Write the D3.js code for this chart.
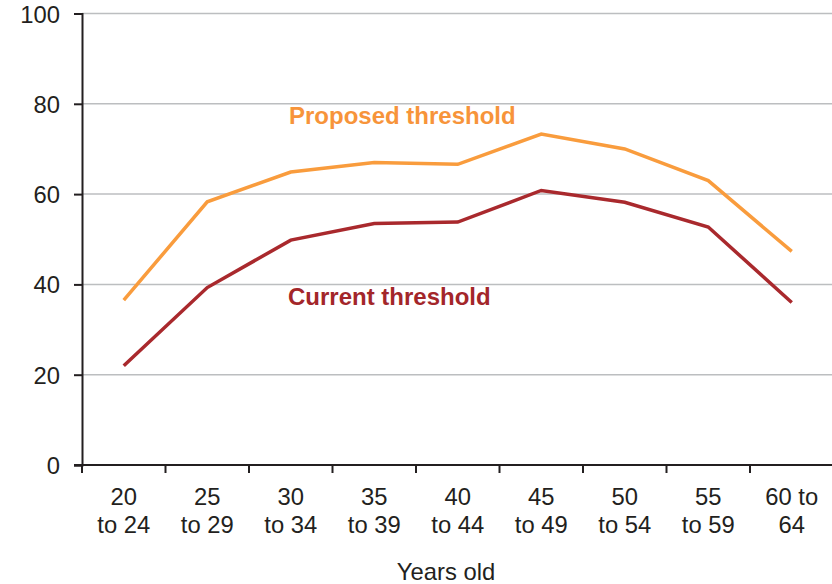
<!DOCTYPE html>
<html><head><meta charset="utf-8">
<script src="https://cdn.jsdelivr.net/npm/d3@7"></script>
<style>body{margin:0;background:#fff}svg{display:block;font-family:"Liberation Sans",Arial,sans-serif}</style>
</head><body><svg id="c" width="832" height="584"></svg>
<script>
const categories = [["20","to 24"],["25","to 29"],["30","to 34"],["35","to 39"],["40","to 44"],["45","to 49"],["50","to 54"],["55","to 59"],["60 to","64"]];
const proposed = [36.5, 58.3, 64.9, 67.0, 66.6, 73.3, 70.0, 63.0, 47.3];
const current  = [22.0, 39.3, 49.8, 53.5, 53.8, 60.8, 58.2, 52.7, 36.0];
const yTicks = [0,20,40,60,80,100];

const svg = d3.select("#c");
const x = d3.scaleBand().domain(d3.range(categories.length)).range([82, 833.5]);
const y = d3.scaleLinear().domain([0,100]).range([465, 13.5]);
const FS = 23.8;

// gridlines
svg.append("g").selectAll("line").data(yTicks.filter(d=>d>0)).join("line")
  .attr("x1",82).attr("x2",832).attr("y1",d=>y(d)).attr("y2",d=>y(d))
  .attr("stroke","#bcbec0").attr("stroke-width",1.5);

// y axis
const ya = svg.append("g").attr("transform","translate(82,0)")
  .call(d3.axisLeft(y).tickValues(yTicks).tickSize(8).tickPadding(14));
ya.select(".domain").attr("stroke","#231f20").attr("stroke-width",2);
ya.selectAll(".tick line").attr("stroke","#231f20").attr("stroke-width",2);
ya.selectAll(".tick text").attr("font-size",FS).attr("fill","#231f20").attr("dy","0.36em")
  .attr("font-family","Liberation Sans, Arial, sans-serif");

// x axis
const xa = svg.append("g").attr("transform","translate(0,465)");
xa.append("line").attr("x1",74).attr("x2",832).attr("y1",0).attr("y2",0).attr("stroke","#231f20").attr("stroke-width",2);
const tickPos = d3.range(categories.length).map(i=>x(i));
xa.selectAll("line.t").data(tickPos).join("line").attr("class","t")
  .attr("x1",d=>d).attr("x2",d=>d).attr("y1",0).attr("y2",8).attr("stroke","#231f20").attr("stroke-width",2);
const lab = xa.selectAll("text.l").data(categories).join("text").attr("class","l")
  .attr("text-anchor","middle").attr("font-size",FS).attr("fill","#231f20");
lab.append("tspan").attr("x",(d,i)=>x(i)+x.bandwidth()/2).attr("y",40).text(d=>d[0]);
lab.append("tspan").attr("x",(d,i)=>x(i)+x.bandwidth()/2).attr("y",68).text(d=>d[1]);

svg.append("text").attr("x",446).attr("y",580).attr("text-anchor","middle")
  .attr("font-size",FS).attr("fill","#231f20").text("Years old");

const line = d3.line().x((d,i)=>x(i)+x.bandwidth()/2).y(d=>y(d));
svg.append("path").datum(proposed).attr("d",line).attr("fill","none")
  .attr("stroke","#f99c3d").attr("stroke-width",3.5);
svg.append("path").datum(current).attr("d",line).attr("fill","none")
  .attr("stroke","#a9292d").attr("stroke-width",3.5);

svg.append("text").attr("x",289).attr("y",123.5).attr("font-size",24).attr("font-weight","bold")
  .attr("fill","#f7943a").text("Proposed threshold");
svg.append("text").attr("x",288).attr("y",305).attr("font-size",24).attr("font-weight","bold")
  .attr("fill","#a3262a").text("Current threshold");
</script></body></html>
